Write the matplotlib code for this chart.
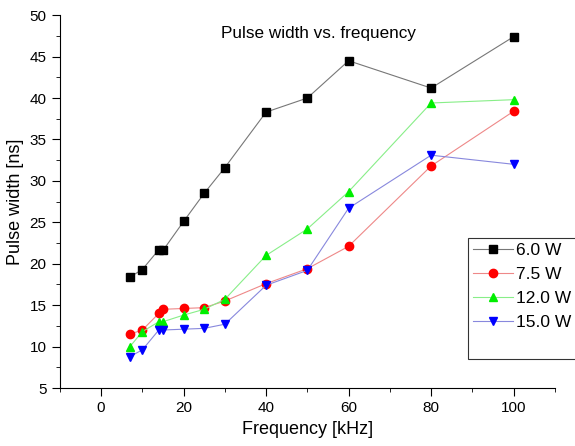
import numpy as np
import matplotlib.pyplot as plt
from matplotlib.ticker import MultipleLocator

plt.rcParams['font.family'] = ['Liberation Sans', 'DejaVu Sans']

freq = [7, 10, 14, 15, 20, 25, 30, 40, 50, 60, 80, 100]
w_6_0 = [18.4, 19.3, 21.7, 21.6, 25.1, 28.5, 31.6, 38.3, 40.0, 44.5, 41.2, 47.4]
w_7_5 = [11.5, 12.0, 14.0, 14.5, 14.6, 14.7, 15.5, 17.6, 19.4, 22.1, 31.8, 38.4]
w_12_0 = [10.0, 11.8, 13.0, 13.0, 13.8, 14.5, 15.7, 21.0, 24.2, 28.7, 39.4, 39.8]
w_15_0 = [8.8, 9.6, 12.0, 12.0, 12.1, 12.2, 12.7, 17.4, 19.2, 26.7, 33.1, 32.0]
labels = ['6.0 W', '7.5 W', '12.0 W', '15.0 W']

fig = plt.figure(figsize=(5.75, 4.46), dpi=100)
ax = fig.add_axes([0.104, 0.130, 0.861, 0.836])

series = [w_6_0, w_7_5, w_12_0, w_15_0]
markers = ['s', 'o', '^', 'v']
mcolors = ['black', 'red', '#00ee00', 'blue']
lcolors = ['#777777', '#ee8888', '#88ee88', '#8888dd']

handles = []
for y, m, mc, lc, lab in zip(series, markers, mcolors, lcolors, labels):
    h, = ax.plot(freq, y, color=lc, lw=0.8, marker=m, markersize=6,
                 markerfacecolor=mc, markeredgecolor=mc, label=lab)
    handles.append(h)

ax.set_xlim(-10, 110)
ax.set_ylim(5, 50)
ax.xaxis.set_major_locator(MultipleLocator(20))
ax.xaxis.set_minor_locator(MultipleLocator(10))
ax.yaxis.set_major_locator(MultipleLocator(5))
ax.yaxis.set_minor_locator(MultipleLocator(2.5))
ax.tick_params(which='major', direction='out', length=6, labelsize=11)
ax.tick_params(which='minor', direction='out', length=3)
ax.spines['top'].set_visible(False)
ax.spines['right'].set_visible(False)

ax.set_xlabel('Frequency [kHz]', fontsize=13)
ax.set_ylabel('Pulse width [ns]', fontsize=13)
ax.text(0.523, 0.952, 'Pulse width vs. frequency', transform=ax.transAxes,
        ha='center', va='center', fontsize=12.3)

# empty last row to leave the blank space at the bottom of the legend box
blank = plt.Line2D([], [], linestyle='none')
leg = ax.legend(handles + [blank], labels + [''], loc='upper left',
                bbox_to_anchor=(468 / 575, 1 - 238 / 446),
                bbox_transform=fig.transFigure, fontsize=12.5,
                frameon=True, fancybox=False, edgecolor='black',
                handlelength=2.3, handletextpad=0.15, labelspacing=0.5,
                borderaxespad=0, borderpad=0.3)
leg.get_frame().set_linewidth(0.8)

fig.savefig('out.png', dpi=100)
